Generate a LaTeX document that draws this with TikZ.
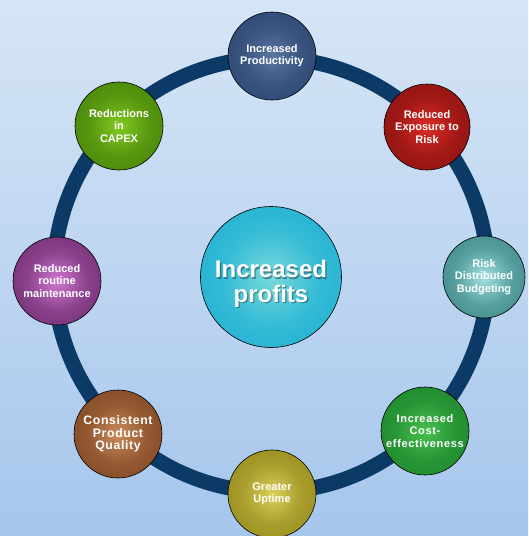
\documentclass[tikz,border=0pt]{standalone}
\usepackage{fontspec}
\setmainfont{Liberation Sans}
\usepackage{tikz}

\definecolor{ringblue}{RGB}{12,58,102}
\definecolor{bgtop}{RGB}{214,229,246}
\definecolor{bgbot}{RGB}{166,198,236}

% one radial shading per ball: light tone in the middle, dark at the rim
\newcommand{\ballshade}[3]{%
  \definecolor{#1in}{RGB}{#2}\definecolor{#1out}{RGB}{#3}%
  \colorlet{#1mid}{#1in!45!#1out}%
  \pgfdeclareradialshading{#1shade}{\pgfpoint{0bp}{0bp}}{color(0bp)=(#1in); color(17bp)=(#1mid); color(50bp)=(#1out)}}
\ballshade{profits}{120,218,220}{0,162,208}
\ballshade{prod}{90,118,160}{28,56,100}
\ballshade{risk}{220,44,38}{114,10,10}
\ballshade{budget}{160,226,224}{30,106,108}
\ballshade{cost}{72,192,80}{14,116,32}
\ballshade{uptime}{218,208,90}{128,116,8}
\ballshade{quality}{202,138,92}{104,50,16}
\ballshade{maint}{206,120,206}{84,22,86}
\ballshade{capex}{130,202,34}{52,110,0}

\newcommand{\labelfont}{\bfseries\fontsize{11}{12.3}\selectfont}

\tikzset{
  disc/.style={circle, draw=black, line width=0.6pt, minimum size=88pt, inner sep=0pt,
    align=center, text=white, font=\labelfont, shading=#1shade},
  hubtext/.style={align=center, font=\bfseries\fontsize{24}{24.5}\selectfont, text=white},
}

\begin{document}
\begin{tikzpicture}[x=1pt, y=-1pt]
    \shade[top color=bgtop, bottom color=bgbot] (0,0) rectangle (528,536);
    \useasboundingbox (0,0) rectangle (528,536);
    % the ring behind the balls
    \draw[ringblue, line width=15pt] (271,275) circle[radius=217];
    % centre
    \node[disc=profits, minimum size=141pt] (profits) at (271,277) {};
    \coordinate (hub) at (271,284);
    \node[hubtext, text=black, opacity=0.35] (profitsshadow) at ([shift={(1.3pt,-1.3pt)}]hub) {Increased\\profits};
    \node[hubtext] (profitstext) at (hub) {Increased\\profits};
    % outer balls, clockwise from the top
    \node[disc=prod] (prod) at (272,56) {Increased\\Productivity};
    \node[disc=risk, minimum size=86pt] (risk) at (427,127) {Reduced\\Exposure to\\Risk};
    \node[disc=budget, minimum size=82pt] (budget) at (484,277) {Risk\\Distributed\\Budgeting};
    \node[disc=cost, font=\labelfont\addfontfeature{LetterSpace=6}] (cost) at (425,431) {Increased\\Cost-\\effectiveness};
    \node[disc=uptime] (uptime) at (272,494) {Greater\\Uptime};
    \node[disc=quality, font=\bfseries\fontsize{12.3}{12.5}\selectfont\addfontfeature{LetterSpace=5}] (quality) at (118,434) {Consistent\\Product\\Quality};
    \node[disc=maint] (maint) at (57,281) {Reduced\\routine\\maintenance};
    \node[disc=capex] (capex) at (119,126) {Reductions\\in\\CAPEX};
\end{tikzpicture}
\end{document}
